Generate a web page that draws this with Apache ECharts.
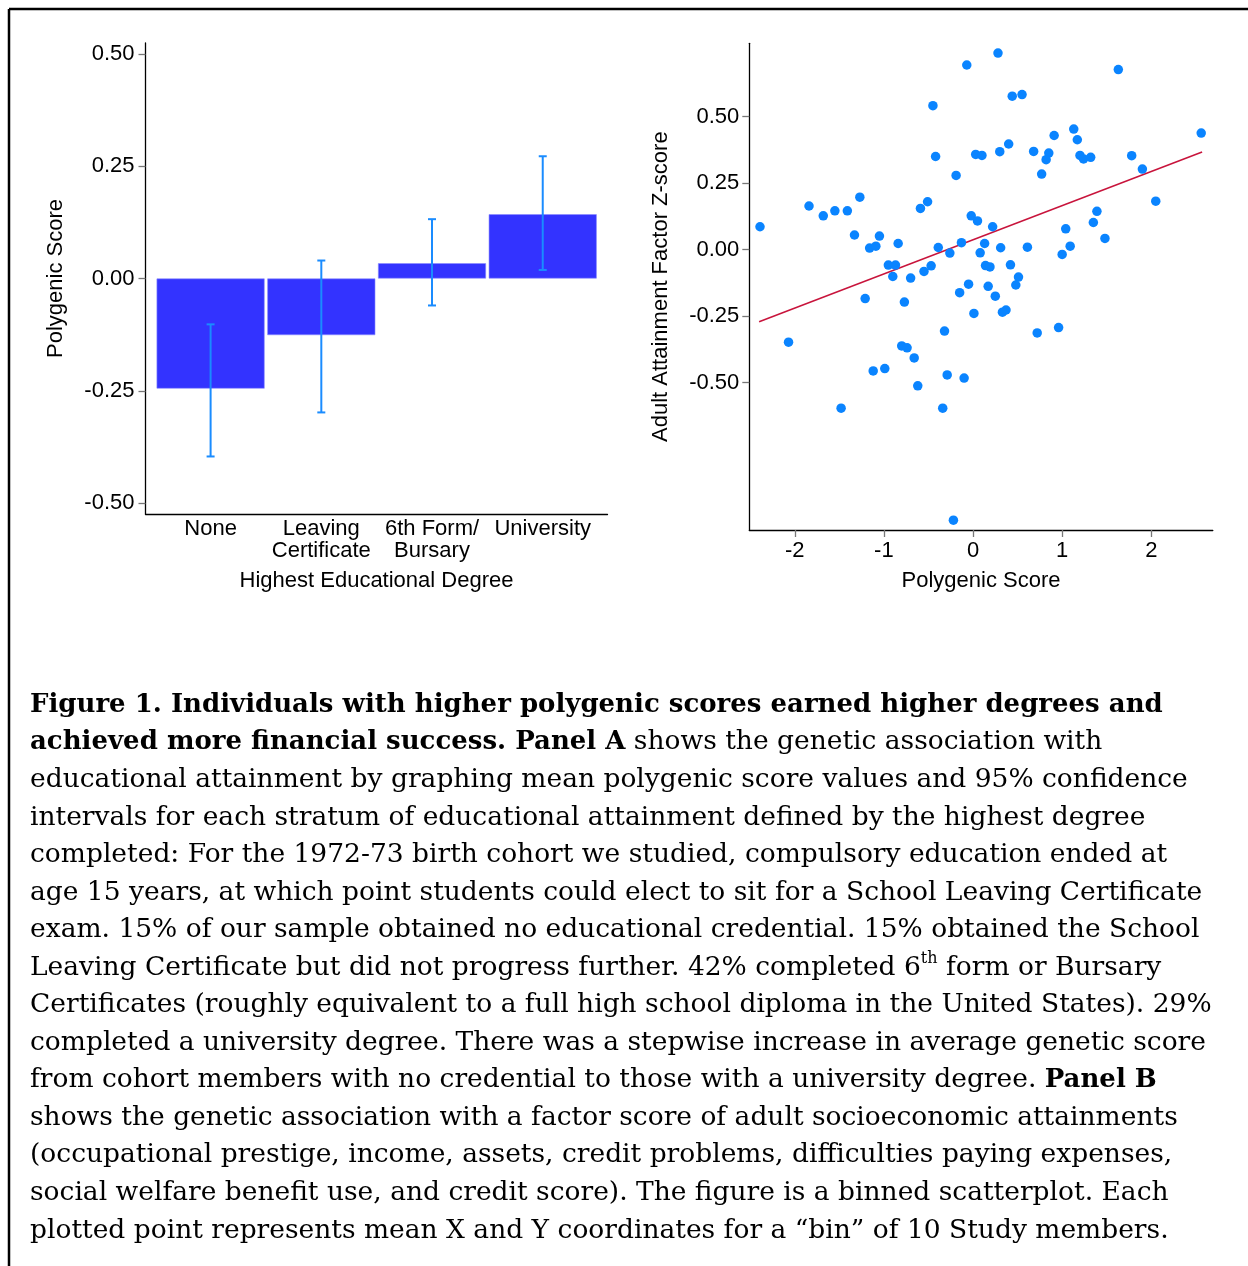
<!doctype html>
<html>
<head>
<meta charset="utf-8">
<title>Figure 1 (ECharts)</title>
<script src="https://cdn.jsdelivr.net/npm/echarts@6/dist/echarts.min.js"></script>
<style>body { margin: 0; background: #fff; }</style>
</head>
<body>
<div id="chart" style="width: 1248px; height: 1266px;"></div>
<script>
// Panel A: mean polygenic score by highest degree, with 95% CI
const categories = ["None", "Leaving\nCertificate", "6th Form/\nBursary", "University"];
const meanScore = [-0.245, -0.126, 0.034, 0.143];
const ciLow = [-0.396, -0.298, -0.060, 0.019];
const ciHigh = [-0.102, 0.040, 0.132, 0.272];
const barYTicks = [-0.5, -0.25, 0, 0.25, 0.5];

// Panel B: binned scatter (polygenic score vs adult attainment z-score)
const pgsX = [
	-2.39, -1.84, -1.68, -1.55, -1.41, -1.27, -1.33, -1.16, -1.09, -1.05,
	-0.84, -0.95, -0.87, -0.90, -0.70, -0.55, -0.47, -0.39, -1.21, -0.77,
	-0.59, -0.51, -0.45, -0.42, -0.07, 0.28, 0.44, 0.55, 1.63, 2.56,
	1.13, 0.91, 1.17, 0.03, 0.10, 0.30, 0.40, 0.68, 0.85, 0.82,
	0.77, 1.20, 1.24, 1.32, 1.78, 1.90, 2.05, -0.19, -0.02, 0.05,
	0.22, -0.13, -0.26, 0.13, 0.08, 0.31, 0.61, 1.39, 1.35, 1.04,
	1.48, 1.09, 1.00, 0.14, 0.19, 0.42, 0.51, 0.48, -0.05, 0.17,
	-0.15, 0.25, 0.37, 0.33, 0.01, -0.32, 0.72, 0.96, -0.29, -0.10,
	-0.34, -0.22, -2.07, -0.80, -0.74, -0.66, -1.12, -0.99, -0.62, -1.48
];
const attainY = [
	0.086, 0.164, 0.127, 0.146, 0.146, 0.197, 0.055, 0.006, 0.013, 0.051,
	0.023, -0.058, -0.058, -0.101, -0.107, -0.082, -0.061, 0.008, -0.184, -0.197,
	0.155, 0.180, 0.541, 0.350, 0.694, 0.739, 0.577, 0.583, 0.677, 0.438,
	0.453, 0.429, 0.413, 0.358, 0.354, 0.368, 0.397, 0.369, 0.363, 0.338,
	0.284, 0.354, 0.341, 0.347, 0.353, 0.303, 0.182, 0.279, 0.127, 0.108,
	0.086, 0.026, -0.013, 0.023, -0.012, 0.007, 0.009, 0.144, 0.102, 0.078,
	0.042, 0.013, -0.018, -0.060, -0.065, -0.057, -0.103, -0.133, -0.130, -0.138,
	-0.162, -0.175, -0.227, -0.235, -0.240, -0.306, -0.313, -0.293, -0.471, -0.483,
	-0.596, -1.017, -0.348, -0.362, -0.369, -0.407, -0.456, -0.447, -0.512, -0.596
];
const fitX = [-2.40, 2.57];
const fitY = [-0.271, 0.367];
const scatterXTicks = [-2, -1, 0, 1, 2];
const scatterYTicks = [-0.5, -0.25, 0, 0.25, 0.5];

const caption = [
	"{b|Figure 1. Individuals with higher polygenic scores earned higher degrees and}",
	"{b|achieved more financial success. Panel A}{r| shows the genetic association with}",
	"{r|educational attainment by graphing mean polygenic score values and 95% confidence}",
	"{r|intervals for each stratum of educational attainment defined by the highest degree}",
	"{r|completed: For the 1972-73 birth cohort we studied, compulsory education ended at}",
	"{r|age 15 years, at which point students could elect to sit for a School Leaving Certificate}",
	"{r|exam. 15% of our sample obtained no educational credential. 15% obtained the School}",
	"{r|Leaving Certificate but did not progress further. 42% completed 6}{s|th}{r| form or Bursary}",
	"{r|Certificates (roughly equivalent to a full high school diploma in the United States). 29%}",
	"{r|completed a university degree. There was a stepwise increase in average genetic score}",
	"{r|from cohort members with no credential to those with a university degree. }{b|Panel B}",
	"{r|shows the genetic association with a factor score of adult socioeconomic attainments}",
	"{r|(occupational prestige, income, assets, credit problems, difficulties paying expenses,}",
	"{r|social welfare benefit use, and credit score). The figure is a binned scatterplot. Each}",
	"{r|plotted point represents mean X and Y coordinates for a \u201cbin\u201d of 10 Study members.}"
];
</script>
<script>
let sans = "'Liberation Sans', Arial, Helvetica, sans-serif";
let serif = "'DejaVu Serif', 'Liberation Serif', serif";
let capSize = 26.5;
let capBold = 26;

let label = { fontFamily: sans, fontSize: 22, color: "#000" };
let fmt2 = v => v.toFixed(2);

function valueAxis(extra) {
	return Object.assign({
		type: "value",
		nameLocation: "middle",
		nameTextStyle: label,
		splitLine: { show: false },
		axisLine: { show: true, onZero: false, lineStyle: { color: "#000", width: 1.3 } },
		axisTick: { show: true, length: 7, lineStyle: { color: "#777", width: 1.3 } }
	}, extra);
}

let captionGraphics = caption.map((line, i) => ({
	type: "text",
	x: 30,
	y: 705 + i * 37.55,
	silent: true,
	style: {
		text: line,
		align: "left",
		verticalAlign: "middle",
		fill: "#000",
		font: capSize + "px " + serif,
		rich: {
			r: { fontFamily: serif, fontSize: capSize, fill: "#000", lineHeight: 34 },
			b: { fontFamily: serif, fontSize: capBold, fontWeight: "bold", fill: "#000", lineHeight: 34 },
			s: { fontFamily: serif, fontSize: 16, fill: "#000", lineHeight: 18, verticalAlign: "top" }
		}
	}
}));

let chart = echarts.init(document.getElementById("chart"), null, { width: 1248, height: 1266 });

chart.setOption({
	animation: false,
	backgroundColor: "#fff",
	textStyle: { fontFamily: sans },
	grid: [
		{ left: 145.5, top: 43, width: 462, height: 471, outerBoundsMode: "none" },
		{ left: 749.3, top: 43.3, width: 463.5, height: 486.7, outerBoundsMode: "none" }
	],
	xAxis: [
		valueAxis({
			gridIndex: 0, min: 0.412, max: 4.585,
			name: "Highest Educational Degree", nameGap: 56,
			axisTick: { show: false },
			axisLabel: Object.assign({
				customValues: [1, 2, 3, 4],
				formatter: v => categories[Math.round(v) - 1],
				lineHeight: 22, margin: 4
			}, label)
		}),
		valueAxis({
			gridIndex: 1, min: -2.51, max: 2.69,
			name: "Polygenic Score", nameGap: 40,
			axisTick: { show: true, length: 7, customValues: scatterXTicks, lineStyle: { color: "#777", width: 1.3 } },
			axisLabel: Object.assign({ customValues: scatterXTicks, margin: 10 }, label)
		})
	],
	yAxis: [
		valueAxis({
			gridIndex: 0, min: -0.524, max: 0.524,
			name: "Polygenic Score", nameGap: 79,
			axisTick: { show: true, length: 7, customValues: barYTicks, lineStyle: { color: "#777", width: 1.3 } },
			axisLabel: Object.assign({ customValues: barYTicks, formatter: fmt2, margin: 11 }, label)
		}),
		valueAxis({
			gridIndex: 1, min: -1.054, max: 0.7756,
			name: "Adult Attainment Factor Z-score", nameGap: 77,
			axisTick: { show: true, length: 7, customValues: scatterYTicks, lineStyle: { color: "#777", width: 1.3 } },
			axisLabel: Object.assign({ customValues: scatterYTicks, formatter: fmt2, margin: 10 }, label)
		})
	],
	series: [
		{
			type: "bar",
			xAxisIndex: 0, yAxisIndex: 0,
			barWidth: 108,
			silent: true,
			itemStyle: { color: "#3333ff", borderColor: "#8c8cff", borderWidth: 0.6 },
			data: meanScore.map((v, i) => [i + 1, v])
		},
		{
			type: "custom",
			xAxisIndex: 0, yAxisIndex: 0,
			silent: true,
			z: 5,
			encode: { x: 0, y: [1, 2] },
			data: ciLow.map((lo, i) => [i + 1, lo, ciHigh[i]]),
			renderItem: (params, api) => {
				let x = api.value(0);
				let lo = api.coord([x, api.value(1)]);
				let hi = api.coord([x, api.value(2)]);
				let w = 4;
				let st = { stroke: "#1a8cff", lineWidth: 2 };
				return {
					type: "group",
					children: [
						{ type: "line", shape: { x1: lo[0], y1: lo[1], x2: hi[0], y2: hi[1] }, style: st },
						{ type: "line", shape: { x1: lo[0] - w, y1: lo[1], x2: lo[0] + w, y2: lo[1] }, style: st },
						{ type: "line", shape: { x1: hi[0] - w, y1: hi[1], x2: hi[0] + w, y2: hi[1] }, style: st }
					]
				};
			}
		},
		{
			type: "line",
			xAxisIndex: 1, yAxisIndex: 1,
			silent: true,
			showSymbol: false,
			z: 2,
			lineStyle: { color: "#c8143c", width: 1.5 },
			data: fitX.map((x, i) => [x, fitY[i]])
		},
		{
			type: "scatter",
			xAxisIndex: 1, yAxisIndex: 1,
			silent: true,
			z: 3,
			symbolSize: 9.5,
			itemStyle: { color: "#0a84ff", opacity: 1 },
			data: pgsX.map((x, i) => [x, attainY[i]])
		}
	],
	graphic: [
		{ type: "line", silent: true, shape: { x1: 9, y1: 9, x2: 1248, y2: 9 }, style: { stroke: "#000", lineWidth: 2.5 } },
		{ type: "line", silent: true, shape: { x1: 9, y1: 9, x2: 9, y2: 1266 }, style: { stroke: "#000", lineWidth: 2.5 } }
	].concat(captionGraphics)
});
</script>
</body>
</html>
